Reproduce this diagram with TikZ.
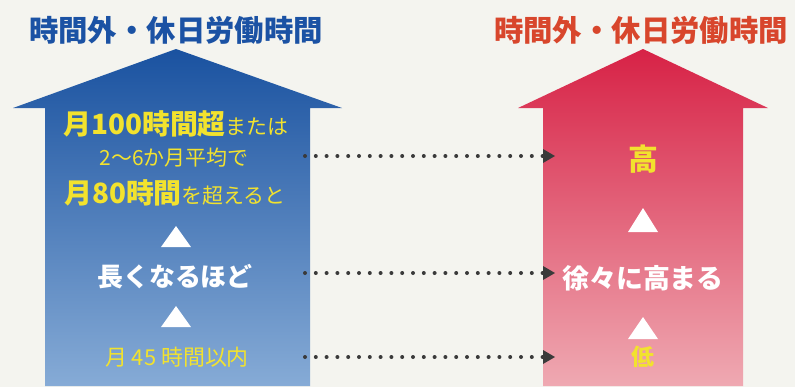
\documentclass[tikz,border=0pt]{standalone}
\usepackage{fontspec}
\newfontfamily\jp{Noto Sans CJK JP}
\usetikzlibrary{arrows.meta}
\definecolor{bg}{HTML}{F4F4EF}
\definecolor{bluetitle}{HTML}{1B52A4}
\definecolor{redtitle}{HTML}{D8462C}
\definecolor{bluetop}{HTML}{1A52A0}
\definecolor{bluebot}{HTML}{86ABD6}
\definecolor{redtop}{HTML}{D72246}
\definecolor{redbot}{HTML}{EFA9B2}
\definecolor{yel}{HTML}{F2E22E}
\definecolor{dotc}{HTML}{3A3A3A}
\newcommand{\bigjp}{\jp\bfseries\fontsize{28}{30}\selectfont}
\newcommand{\smalljp}{\jp\fontsize{21}{24}\selectfont}
\tikzset{
  title/.style={font=\jp\bfseries\fontsize{29.5}{32}\selectfont, inner sep=0pt},
  big/.style={font=\jp\bfseries\fontsize{26}{28}\selectfont, inner sep=0pt},
  small/.style={font=\smalljp, inner sep=0pt},
  tri/.style={fill=white, draw=none},
  dotarrow/.style={draw=dotc, line width=4bp, line cap=round, dash pattern=on 0bp off 10.8bp,
    -{Triangle[length=12bp,width=14bp,line cap=butt,line width=0pt]}},
}
\begin{document}
\begin{tikzpicture}[x=1bp,y=-1bp]
\fill[bg] (0,0) rectangle (795,387);
\useasboundingbox (0,0) rectangle (795,387);
% blue arrow
\shade[top color=bluetop, bottom color=bluebot]
  (176,49) -- (342,108) -- (310,108) -- (310,386) -- (45,386) -- (45,108) -- (13,108) -- cycle;
% red arrow
\shade[top color=redtop, bottom color=redbot]
  (643,49) -- (768,108) -- (743,108) -- (743,386) -- (543,386) -- (543,108) -- (518,108) -- cycle;
% titles
\node[title, text=bluetitle] (tl) at (176,30) {時間外・休日労働時間};
\node[title, text=redtitle] (tr) at (641,30) {時間外・休日労働時間};
% left texts
\node[text=yel, inner sep=0pt] (l1) at (176,124) {{\bigjp 月100時間超}{\smalljp または}};
\node[small, text=yel] (l2) at (174,158) {2〜6か月平均で};
\node[text=yel, inner sep=0pt] (l3) at (175,193) {{\bigjp 月80時間}{\smalljp を超えると}};
\fill[tri] (176,226) -- (191,247) -- (161,247) -- cycle;
\node[big, text=white] (l4) at (175,277) {長くなるほど};
\fill[tri] (176,306) -- (191,327) -- (161,327) -- cycle;
\node[text=yel, font=\jp\fontsize{22}{24}\selectfont, inner sep=0pt] (l5) at (177,357) {月 45 時間以内};
% right texts
\node[text=yel, font=\jp\bfseries\fontsize{30}{32}\selectfont, inner sep=0pt] (r1) at (643,159) {高};
\fill[tri] (643,208) -- (658,232) -- (628,232) -- cycle;
\node[font=\jp\bfseries\fontsize{27}{29}\selectfont, text=white, inner sep=0pt] (r2) at (643,278) {徐々に高まる};
\fill[tri] (643,317) -- (658,339) -- (628,339) -- cycle;
\node[text=yel, font=\jp\bfseries\fontsize{23}{25}\selectfont, inner sep=0pt] (r3) at (643,357) {低};
% connector endpoints
\coordinate (a1) at (305,156);
\coordinate (b1) at (555,156);
\coordinate (a2) at (305,273);
\coordinate (b2) at (555,273);
\coordinate (a3) at (305,357);
\coordinate (b3) at (555,357);
\draw[dotarrow] (a1) -- (b1);
\draw[dotarrow] (a2) -- (b2);
\draw[dotarrow] (a3) -- (b3);
\end{tikzpicture}
\end{document}
